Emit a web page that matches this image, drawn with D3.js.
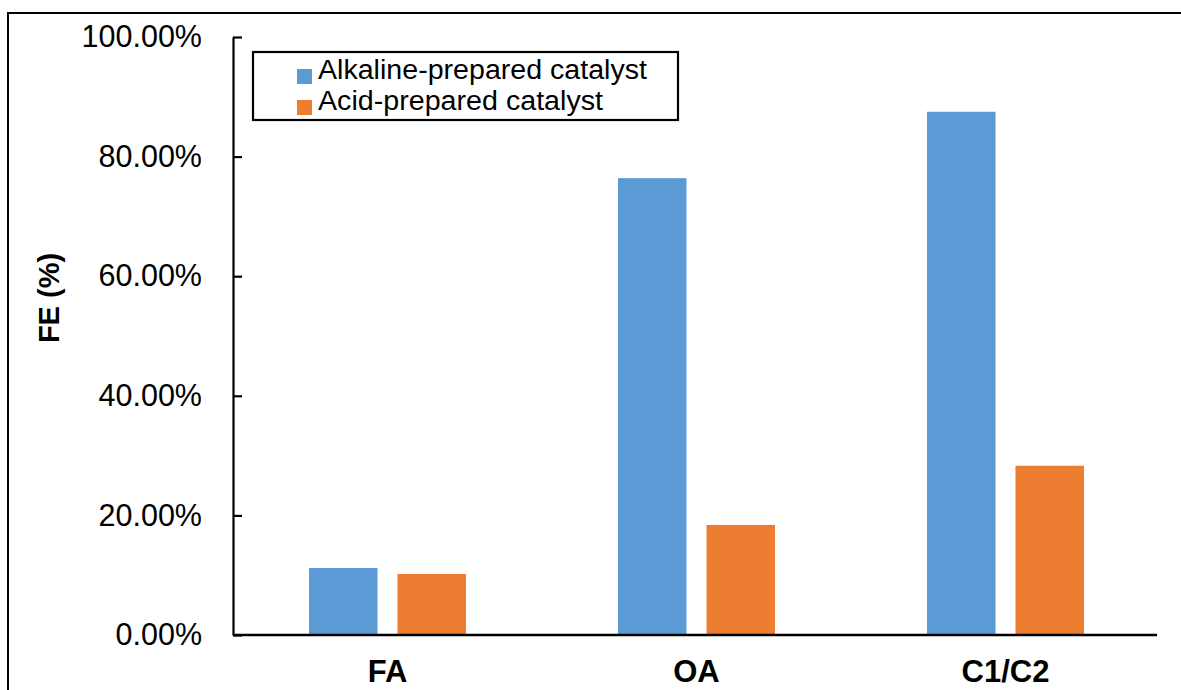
<!DOCTYPE html>
<html>
<head>
<meta charset="utf-8">
<script src="https://cdn.jsdelivr.net/npm/d3@7"></script>
<style>
  html, body { margin: 0; padding: 0; background: #fff; }
  svg { display: block; }
  text { font-family: "Liberation Sans", Arial, sans-serif; fill: #000; }
</style>
</head>
<body>
<svg id="chart" width="1181" height="690"></svg>
<script>
// Faradaic efficiency by product, for the two catalyst preparations
const categories = ["FA", "OA", "C1/C2"];
const seriesNames = ["Alkaline-prepared catalyst", "Acid-prepared catalyst"];
const alkalineValues = [11.2, 76.4, 87.5];
const acidValues = [10.2, 18.4, 28.3];
const yTicks = [0, 20, 40, 60, 80, 100];
const seriesColors = ["#5B9BD5", "#ED7D31"];

const seriesValues = [alkalineValues, acidValues];
const table = categories.map((c, i) => ({
  category: c,
  values: seriesValues.map((vals, s) => ({ series: s, value: vals[i] }))
}));

const svg = d3.select("#chart");

// outer frame
svg.append("rect")
  .attr("x", 8).attr("y", 13)
  .attr("width", 1200).attr("height", 700)
  .attr("fill", "none").attr("stroke", "#000").attr("stroke-width", 2);

const plot = { left: 233, right: 1160, top: 37, bottom: 635 };

const x = d3.scaleBand().domain(categories).range([plot.left, plot.right]).padding(0);
const groupWidth = 157;
const xs = d3.scaleBand().domain(d3.range(seriesNames.length))
  .range([0, groupWidth]).paddingInner(0.226).paddingOuter(0);
const y = d3.scaleLinear().domain([0, 100]).range([plot.bottom, plot.top]);

// bars
const groups = svg.append("g").selectAll("g").data(table).join("g")
  .attr("transform", d => `translate(${x(d.category) + (x.bandwidth() - groupWidth) / 2},0)`);
groups.selectAll("rect").data(d => d.values).join("rect")
  .attr("x", d => xs(d.series))
  .attr("width", xs.bandwidth())
  .attr("y", d => y(d.value))
  .attr("height", d => y(0) - y(d.value))
  .attr("fill", d => seriesColors[d.series]);

// y axis, ticks pointing into the plot
const yAxis = svg.append("g")
  .attr("transform", `translate(${plot.left},0)`)
  .call(d3.axisLeft(y).tickValues(yTicks).tickSizeInner(-9).tickSizeOuter(0)
    .tickPadding(31).tickFormat(d => d.toFixed(2) + "%"));
yAxis.selectAll("path, line").attr("stroke", "#000").attr("stroke-width", 2.2);
yAxis.selectAll("text")
  .style("font-size", "30.5px")
  .attr("fill", "#000");

// x axis line and category labels
const xAxis = svg.append("g")
  .attr("transform", `translate(0,${plot.bottom})`)
  .call(d3.axisBottom(x).tickSize(0).tickPadding(25));
xAxis.select("path.domain").attr("stroke", "#000").attr("stroke-width", 2.5)
  .attr("d", `M${plot.left},0H1157`);
xAxis.selectAll("text")
  .style("font-size", "31px")
  .style("font-weight", "bold")
  .attr("fill", "#000");

// y axis title
svg.append("text")
  .attr("transform", "translate(59,298) rotate(-90)")
  .attr("text-anchor", "middle")
  .style("font-size", "29px")
  .style("font-weight", "bold")
  .text("FE (%)");

// legend
const legendTextWidths = [329, 285];
const legend = svg.append("g");
legend.append("rect")
  .attr("x", 253).attr("y", 52).attr("width", 425).attr("height", 68)
  .attr("fill", "#fff").attr("stroke", "#000").attr("stroke-width", 2.2);
const legendRows = legend.selectAll("g.row").data(seriesNames).join("g")
  .attr("class", "row")
  .attr("transform", (d, i) => `translate(0,${i * 31})`);
legendRows.append("rect")
  .attr("x", 297).attr("y", 69).attr("width", 15).attr("height", 15)
  .attr("fill", (d, i) => seriesColors[i]);
legendRows.append("text")
  .attr("x", 318).attr("y", 79)
  .style("font-size", "27px")
  .attr("textLength", (d, i) => legendTextWidths[i])
  .attr("lengthAdjust", "spacingAndGlyphs")
  .text(d => d);
</script>
</body>
</html>
